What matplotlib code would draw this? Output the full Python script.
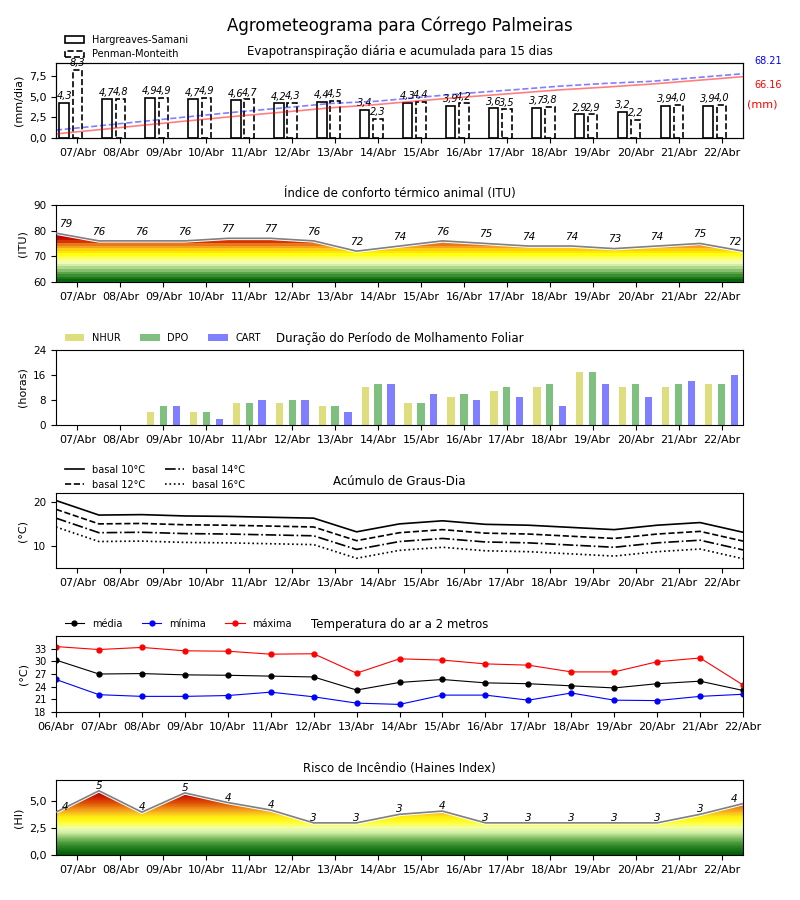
import numpy as np
import matplotlib
matplotlib.use('Agg')
import matplotlib.pyplot as plt
from matplotlib.colors import LinearSegmentedColormap
from matplotlib.ticker import FuncFormatter, FixedLocator
from matplotlib.patches import PathPatch

# ---------------- data ----------------
days = ['07/Abr', '08/Abr', '09/Abr', '10/Abr', '11/Abr', '12/Abr', '13/Abr', '14/Abr',
        '15/Abr', '16/Abr', '17/Abr', '18/Abr', '19/Abr', '20/Abr', '21/Abr', '22/Abr']
temp_days = ['06/Abr'] + days

et_hs = [4.3, 4.7, 4.9, 4.7, 4.6, 4.2, 4.4, 3.4, 4.3, 3.9, 3.6, 3.7, 2.9, 3.2, 3.9, 3.9]
et_pm = [8.3, 4.8, 4.9, 4.9, 4.7, 4.3, 4.5, 2.3, 4.4, 4.2, 3.5, 3.8, 2.9, 2.2, 4.0, 4.0]
et_total_hs = 66.16
et_total_pm = 68.21

itu = [79, 76, 76, 76, 77, 77, 76, 72, 74, 76, 75, 74, 74, 73, 74, 75, 72]

wet_nhur = [0, 0, 4, 4, 7, 7, 6, 12, 7, 9, 11, 12, 17, 12, 12, 13]
wet_dpo = [0, 0, 6, 4, 7, 8, 6, 13, 7, 10, 12, 13, 17, 13, 13, 13]
wet_cart = [0, 0, 6, 2, 8, 8, 4, 13, 10, 8, 9, 6, 13, 9, 14, 16]

gd10 = [20.3, 17.0, 17.1, 16.8, 16.7, 16.5, 16.3, 13.2, 15.0, 15.7, 14.9, 14.7, 14.2, 13.7, 14.7, 15.3, 13.1]
gd12 = [18.3, 15.0, 15.1, 14.8, 14.7, 14.5, 14.3, 11.2, 13.0, 13.7, 12.9, 12.7, 12.2, 11.7, 12.7, 13.3, 11.1]
gd14 = [16.3, 13.0, 13.1, 12.8, 12.7, 12.5, 12.3, 9.2, 11.0, 11.7, 10.9, 10.7, 10.2, 9.7, 10.7, 11.3, 9.1]
gd16 = [14.3, 11.0, 11.1, 10.8, 10.7, 10.5, 10.3, 7.2, 9.0, 9.7, 8.9, 8.7, 8.2, 7.7, 8.7, 9.3, 7.1]

t_mean = [30.3, 27.0, 27.1, 26.8, 26.7, 26.5, 26.3, 23.2, 25.0, 25.7, 24.9, 24.7, 24.2, 23.7, 24.7, 25.3, 23.1]
t_min = [25.7, 22.1, 21.7, 21.7, 21.9, 22.7, 21.6, 20.1, 19.8, 22.0, 22.0, 20.8, 22.5, 20.8, 20.7, 21.7, 22.2]
t_max = [33.5, 32.8, 33.3, 32.5, 32.4, 31.7, 31.8, 27.2, 30.6, 30.3, 29.4, 29.1, 27.5, 27.5, 29.9, 30.8, 24.4]

hi = [4.0, 6.0, 4.0, 5.8, 4.9, 4.2, 3.0, 3.0, 3.8, 4.1, 3.0, 3.0, 3.0, 3.0, 3.0, 3.8, 4.8]
hi_labels = ['4', '5', '4', '5', '4', '4', '3', '3', '3', '4', '3', '3', '3', '3', '3', '3', '4']

# ---------------- helpers ----------------
comma = FuncFormatter(lambda v, p: ('%.1f' % v).replace('.', ','))
xd = np.arange(len(days))
xp = np.arange(len(temp_days)) - 0.5

fig = plt.figure(figsize=(8, 9), dpi=100)
fig.suptitle('Agrometeograma para Córrego Palmeiras', fontsize=12, y=0.982)

L, W = 0.07, 0.85875
TF = 8.5


def day_axis(ax):
    ax.set_xlim(-0.5, 15.5)
    ax.set_xticks(xd)
    ax.set_xticklabels(days, fontsize=8)
    ax.tick_params(axis='y', labelsize=7.5)


def gradient_area(ax, x, y, y0, y1, colors, nrows):
    cmap = LinearSegmentedColormap.from_list('g', [((v - y0) / (y1 - y0), c) for v, c in colors])
    poly = ax.fill_between(x, y0, y, facecolor='none', edgecolor='none')
    path = poly.get_paths()[0]
    patch = PathPatch(path, transform=ax.transData, facecolor='none', edgecolor='none')
    ax.add_patch(patch)
    step = (y1 - y0) / nrows
    levels = (y0 + step * (np.arange(nrows) + 0.5))[:, None]
    im = ax.imshow(levels, aspect='auto', extent=[x[0], x[-1], y0, y1], origin='lower',
                   cmap=cmap, vmin=y0, vmax=y1, interpolation='nearest', zorder=1)
    im.set_clip_path(patch)
    ax.plot(x, y, color='white', lw=2.6, zorder=2)
    ax.plot(x, y, color='#808080', lw=1.2, zorder=3)


def point_labels(ax, x, y, labels, dy):
    n = len(x)
    for i in range(n):
        xx = x[i]
        if i == 0:
            xx = x[i] + 0.22
        elif i == n - 1:
            xx = x[i] - 0.2
        ax.annotate(labels[i], (xx, y[i]), xytext=(0, dy), textcoords='offset points',
                    ha='center', va='bottom', fontsize=7.5, style='italic', zorder=4)

# ---------------- 1. Evapotranspiration ----------------
ax1 = fig.add_axes([L, 0.8467, W, 0.0833])
bw = 0.22
b1 = ax1.bar(xd - 0.31, et_hs, bw, facecolor='white', edgecolor='black', lw=1.2,
             label='Hargreaves-Samani', zorder=3)
b2 = ax1.bar(xd, et_pm, bw, facecolor='white', edgecolor='black', lw=1.2, linestyle='--',
             label='Penman-Monteith', zorder=3)
for xi, v in zip(xd - 0.31, et_hs):
    ax1.text(xi, v + 0.2, ('%.1f' % v).replace('.', ','), ha='center', va='bottom',
             fontsize=7, style='italic')
for xi, v in zip(xd, et_pm):
    ax1.text(xi, v + 0.2, ('%.1f' % v).replace('.', ','), ha='center', va='bottom',
             fontsize=7, style='italic')
day_axis(ax1)
ax1.set_ylim(0, max(et_pm) * 1.1)
ax1.yaxis.set_major_locator(FixedLocator([0, 2.5, 5.0, 7.5]))
ax1.yaxis.set_major_formatter(comma)
ax1.tick_params(axis='y', labelsize=8)
ax1.set_ylabel('(mm/dia)', fontsize=8)
ax1.set_title('Evapotranspiração diária e acumulada para 15 dias', fontsize=TF)
ax1.legend(loc='lower left', bbox_to_anchor=(0, 0.93), frameon=False, fontsize=7,
           handlelength=2.0)
ax1b = ax1.twinx()
xc = np.linspace(-0.5, 15.5, len(days))
ax1b.plot(xc, np.cumsum(et_hs), color='red', alpha=0.5, lw=1.2)
ax1b.plot(xc, np.cumsum(et_pm), color='blue', alpha=0.5, lw=1.2, linestyle='--')
ax1b.set_ylim(0, 79)
ax1b.set_yticks([])
ax1b.set_xlim(-0.5, 15.5)
ax1.text(1.017, 1.027, '%.2f' % et_total_pm, transform=ax1.transAxes, color='blue',
         fontsize=7, ha='left', va='center')
ax1.text(1.017, 0.707, '%.2f' % et_total_hs, transform=ax1.transAxes, color='red',
         fontsize=7, ha='left', va='center')
ax1.text(1.006, 0.44, '(mm)', transform=ax1.transAxes, color='red',
         fontsize=8, ha='left', va='center')

# ---------------- 2. ITU ----------------
ax2 = fig.add_axes([L, 0.6867, W, 0.0856])
itu_colors = [(60, '#005a00'), (61.5, '#1e7a1e'), (63, '#4a9a3a'), (64.5, '#88c070'),
              (66, '#c8e8a0'), (67.5, '#f0fcb8'), (69, '#ffff70'), (70.5, '#ffff10'),
              (72, '#ffe000'), (73, '#fbb820'), (74, '#f09020'), (75, '#e06010'),
              (75.8, '#d02000'), (77, '#c40000'), (90, '#b00000')]
gradient_area(ax2, xp, itu, 60, 90, itu_colors, 30)
point_labels(ax2, xp, itu, [str(v) for v in itu], 3)
day_axis(ax2)
ax2.set_ylim(60, 90)
ax2.set_yticks([60, 70, 80, 90])
ax2.set_ylabel('(ITU)', fontsize=8)
ax2.set_title('Índice de conforto térmico animal (ITU)', fontsize=TF)

# ---------------- 3. Leaf wetness ----------------
ax3 = fig.add_axes([L, 0.5278, W, 0.0833])
ww = 0.17
ax3.bar(xd - 0.3, wet_nhur, ww, color='y', alpha=0.5, label='NHUR')
ax3.bar(xd, wet_dpo, ww, color='g', alpha=0.5, label='DPO')
ax3.bar(xd + 0.3, wet_cart, ww, color='b', alpha=0.5, label='CART')
day_axis(ax3)
ax3.set_ylim(0, 24)
ax3.set_yticks([0, 8, 16, 24])
ax3.set_ylabel('(horas)', fontsize=8)
ax3.set_title('Duração do Período de Molhamento Foliar', fontsize=TF)
ax3.legend(loc='lower left', bbox_to_anchor=(0, 0.98), frameon=False, fontsize=7, ncol=3)

# ---------------- 4. Degree days ----------------
ax4 = fig.add_axes([L, 0.3689, W, 0.0833])
ax4.plot(xp, gd10, color='black', lw=1.2, linestyle='-', label='basal 10°C')
ax4.plot(xp, gd12, color='black', lw=1.2, linestyle='--', label='basal 12°C')
ax4.plot(xp, gd14, color='black', lw=1.2, linestyle='-.', label='basal 14°C')
ax4.plot(xp, gd16, color='black', lw=1.2, linestyle=':', label='basal 16°C')
day_axis(ax4)
ax4.set_ylim(5, 22)
ax4.set_yticks([10, 20])
ax4.set_ylabel('(°C)', fontsize=8)
ax4.set_title('Acúmulo de Graus-Dia', fontsize=TF)
ax4.legend(loc='lower left', bbox_to_anchor=(0, 0.93), frameon=False, fontsize=7, ncol=2)

# ---------------- 5. Air temperature ----------------
ax5 = fig.add_axes([L, 0.2089, W, 0.0844])
ax5.plot(xp, t_mean, color='black', lw=0.8, marker='o', ms=3.5, label='média')
ax5.plot(xp, t_min, color='blue', lw=0.8, marker='o', ms=3.5, label='mínima')
ax5.plot(xp, t_max, color='red', lw=0.8, marker='o', ms=3.5, label='máxima')
ax5.set_xlim(-0.5, 15.5)
ax5.set_xticks(xp)
ax5.set_xticklabels(temp_days, fontsize=8)
ax5.tick_params(axis='y', labelsize=7)
ax5.set_ylim(18, 36)
ax5.set_yticks([18, 21, 24, 27, 30, 33])
ax5.set_ylabel('(°C)', fontsize=8)
ax5.set_title('Temperatura do ar a 2 metros', fontsize=TF)
ax5.legend(loc='lower left', bbox_to_anchor=(0, 0.98), frameon=False, fontsize=7, ncol=3)

# ---------------- 6. Haines index ----------------
ax6 = fig.add_axes([L, 0.05, W, 0.0833])
hi_colors = [(0, '#005a00'), (0.6, '#1e7a1e'), (1.2, '#50a040'), (1.7, '#98cc78'),
             (2.2, '#dcf4b0'), (2.6, '#f4ffa0'), (3.0, '#ffff30'), (3.5, '#fff010'),
             (4.0, '#f8b820'), (4.6, '#e87010'), (5.2, '#d43000'), (5.8, '#c00000'),
             (7.0, '#b00000')]
gradient_area(ax6, xp, hi, 0, 7, hi_colors, 140)
point_labels(ax6, xp, hi, hi_labels, 0)
day_axis(ax6)
ax6.set_ylim(0, 7)
ax6.yaxis.set_major_locator(FixedLocator([0, 2.5, 5.0]))
ax6.yaxis.set_major_formatter(comma)
ax6.tick_params(axis='y', labelsize=8)
ax6.set_ylabel('(HI)', fontsize=8)
ax6.set_title('Risco de Incêndio (Haines Index)', fontsize=TF)

fig.savefig('out.png', dpi=100)
